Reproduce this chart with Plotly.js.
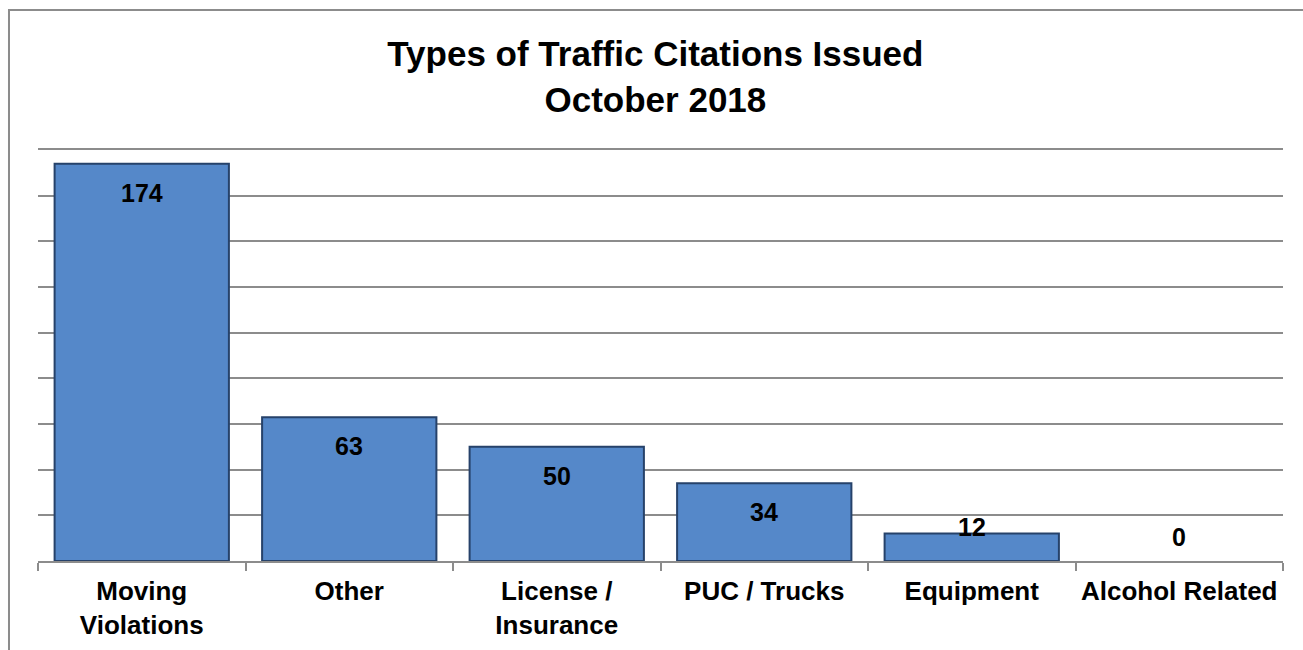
<!DOCTYPE html>
<html>
<head>
<meta charset="utf-8">
<script src="https://cdn.plot.ly/plotly-3.0.1.min.js"></script>
<style>
  body { margin: 0; background: #fff; }
  #chart { width: 1303px; height: 650px; }
</style>
</head>
<body>
<div id="chart"></div>
<script>
// Data
var categories = ['Moving<br>Violations', 'Other', 'License /<br>Insurance', 'PUC / Trucks', 'Equipment', 'Alcohol Related'];
var citations = [174, 63, 50, 34, 12, 0];

var CHART = document.getElementById('chart');

var trace = {
    x: categories,
    y: citations,
    type: 'bar',
    marker: {
        color: '#5588c9',
        line: {
            color: '#26426a',
            width: citations.map(function (v) { return v > 0 ? 2 : 0; })
        }
    },
    hoverinfo: 'x+y',
    showlegend: false
};

// value labels: inside near the top, or just above for short bars
var labels = citations.map(function (v, i) {
    return {
        x: categories[i],
        y: v,
        text: String(v),
        showarrow: false,
        yanchor: 'middle',
        yshift: v > 20 ? -29 : (v > 0 ? 7 : 24),
        font: { family: 'Liberation Sans, Arial', size: 25, color: '#000', weight: 'bold' }
    };
});

var layout = {
    width: 1303,
    height: 650,
    margin: { l: 38, r: 20, t: 150, b: 89 },
    paper_bgcolor: '#fff',
    plot_bgcolor: '#fff',
    font: { family: 'Liberation Sans, Arial', size: 26, color: '#000' },
    title: {
        text: '<b>Types of Traffic Citations Issued<br>October 2018</b>',
        font: { family: 'Liberation Sans, Arial', size: 35, color: '#000' },
        x: 0.503,
        xref: 'container',
        y: 1 - 66 / 650,
        yref: 'container',
        yanchor: 'top'
    },
    bargap: 0.16,
    xaxis: {
        type: 'category',
        tickson: 'boundaries',
        ticks: 'outside',
        ticklen: 8,
        tickwidth: 2,
        tickcolor: '#8c8c8c',
        showline: true,
        mirror: true,
        linecolor: '#8c8c8c',
        linewidth: 2,
        ticklabelstandoff: 6,
        tickfont: { family: 'Liberation Sans, Arial', size: 26, color: '#000', weight: 'bold' },
        fixedrange: true
    },
    yaxis: {
        range: [0, 180],
        dtick: 20,
        showticklabels: false,
        showgrid: true,
        gridcolor: '#8c8c8c',
        gridwidth: 2,
        zeroline: false,
        showline: false,
        fixedrange: true
    },
    annotations: labels,
    shapes: [{
        type: 'rect',
        xref: 'paper', yref: 'paper',
        x0: -0.0233, x1: 1.03,
        y0: -0.3, y1: 1.3406,
        line: { color: '#8c8c8c', width: 2 },
        layer: 'below'
    }]
};

var config = { responsive: false, displayModeBar: false };

Plotly.newPlot(CHART, [trace], layout, config);
</script>
</body>
</html>
